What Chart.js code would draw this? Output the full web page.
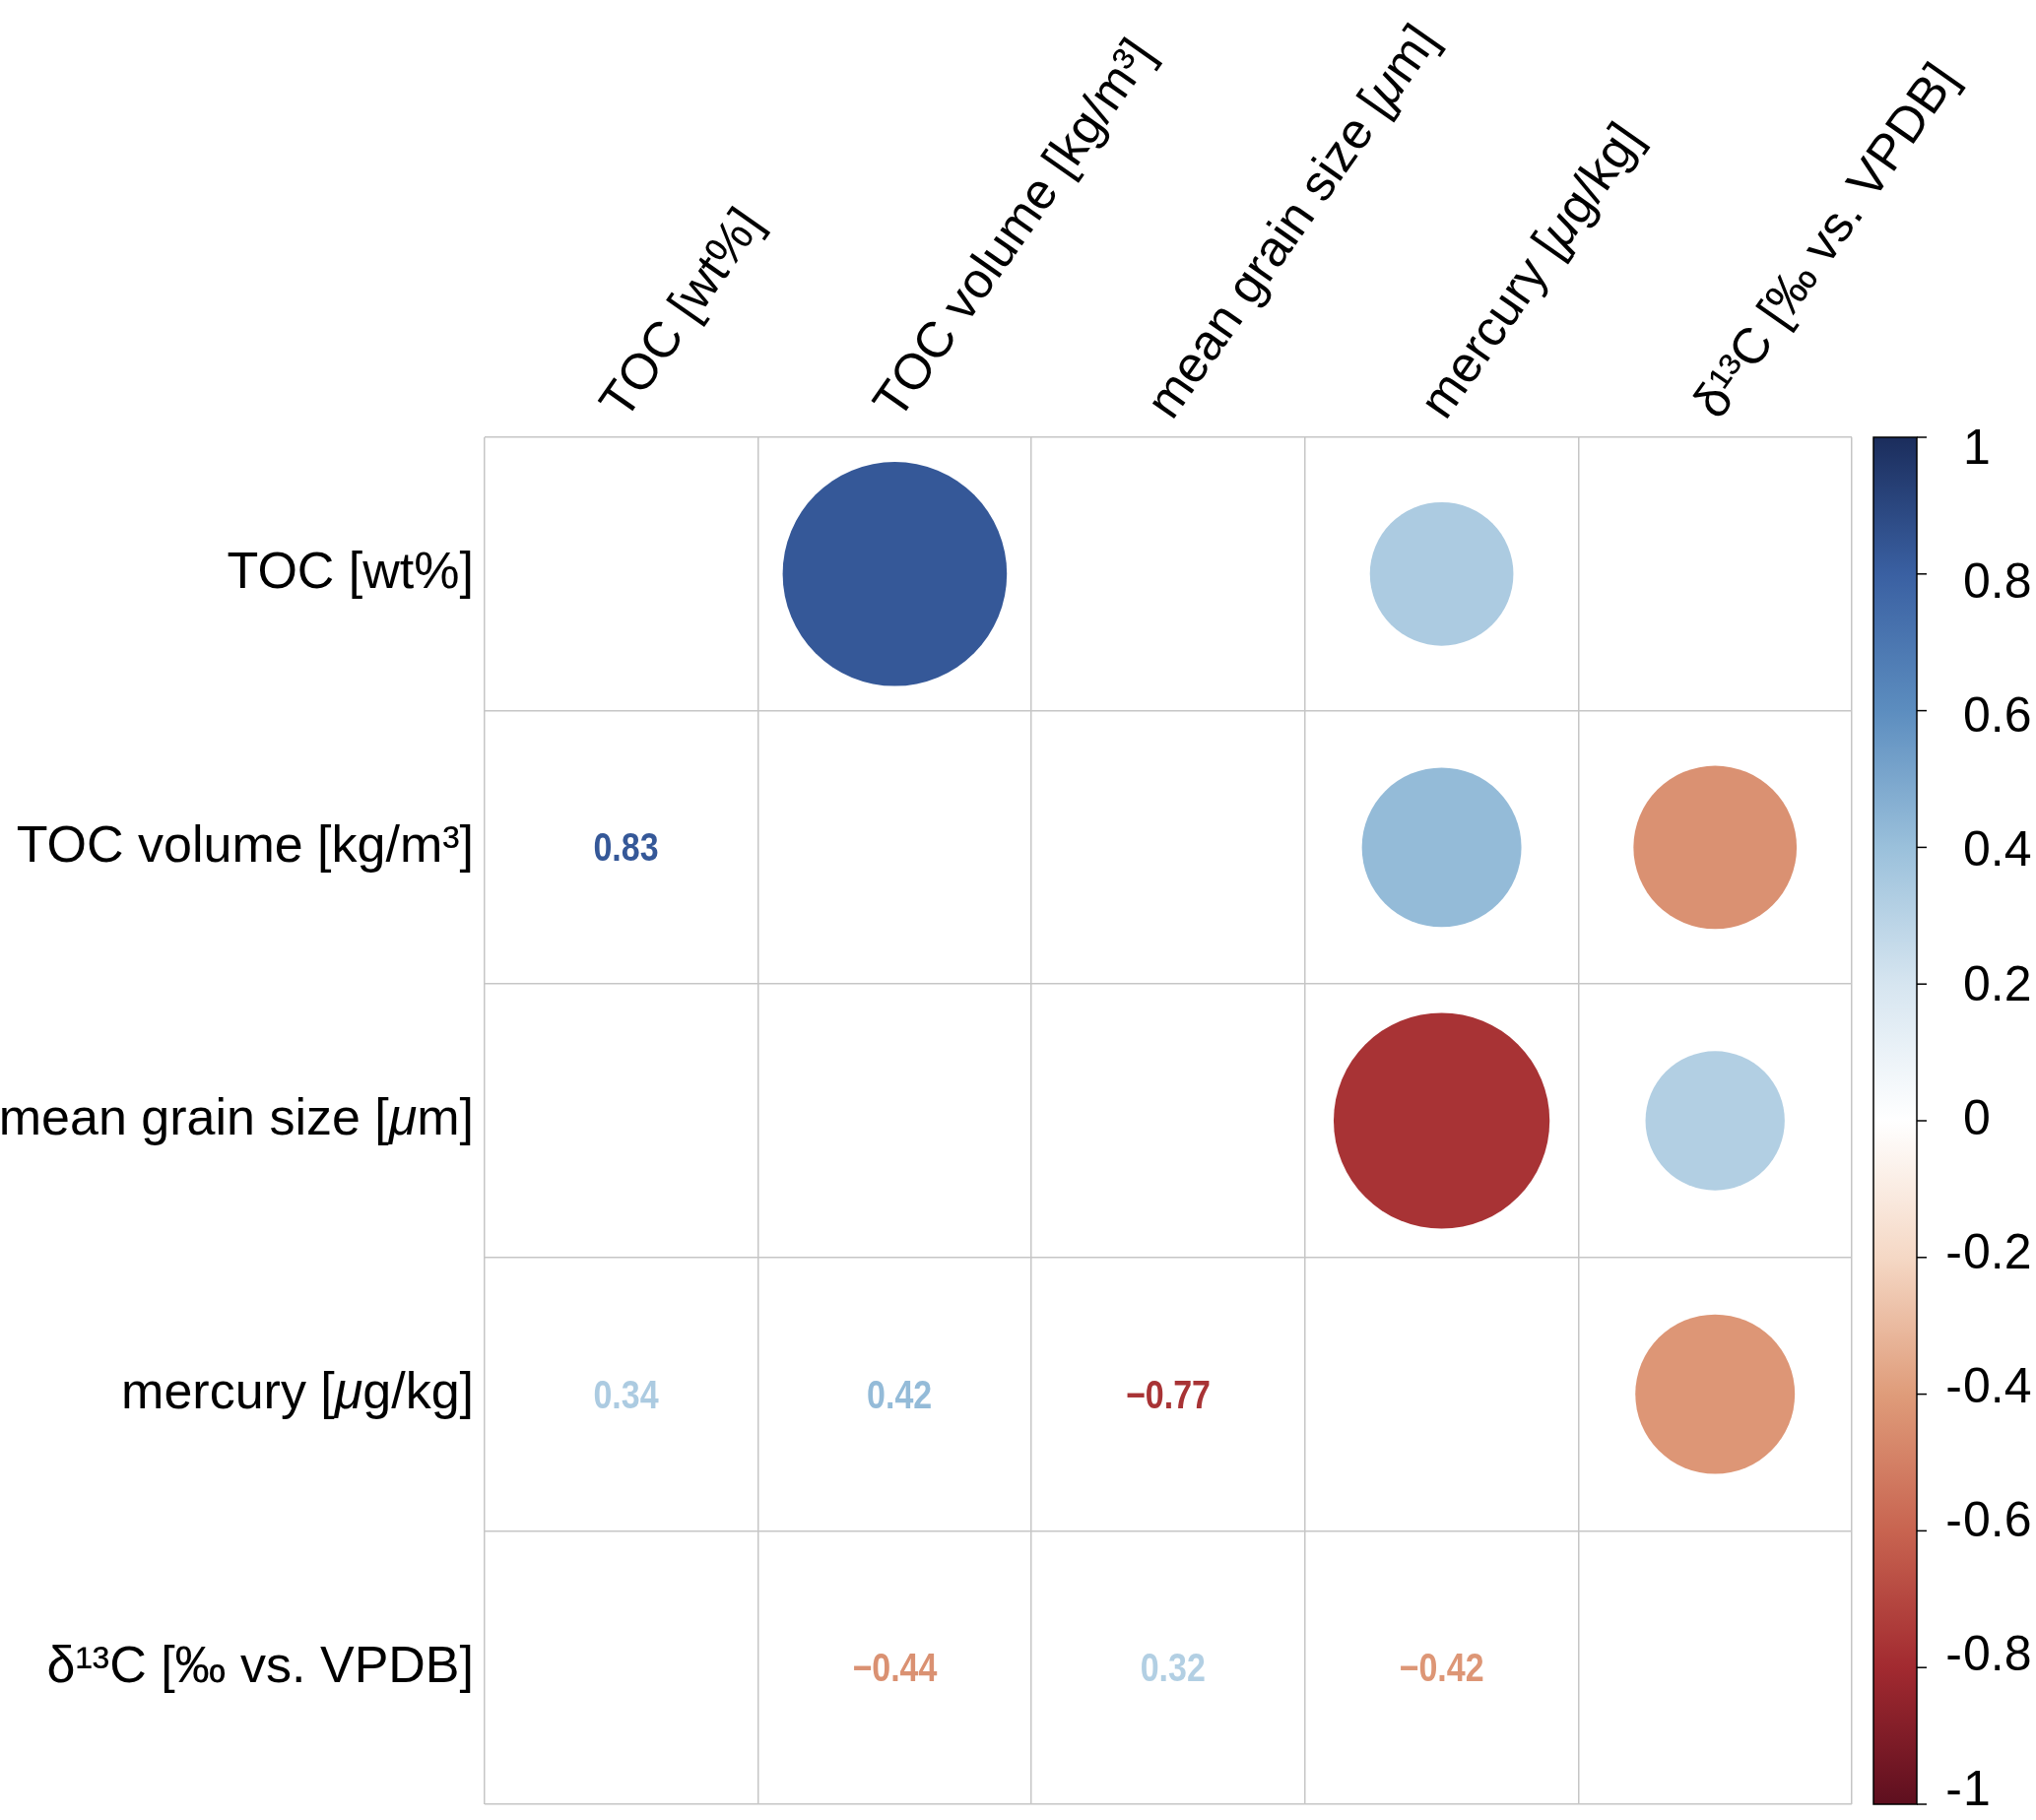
<!DOCTYPE html>
<html lang="en">
<head>
    <meta charset="UTF-8">
    <title>Correlation matrix</title>
    <script src="https://cdn.jsdelivr.net/npm/chart.js"></script>
    <style>
        * { margin: 0; padding: 0; box-sizing: border-box; }
        body { background: #ffffff; width: 2067px; height: 1848px; overflow: hidden; }
        .chart-box { position: relative; width: 2067px; height: 1848px; }
    </style>
</head>
<body>
    <div class="chart-box">
        <canvas id="corrChart"></canvas>
    </div>

    <script>
        // ---- data ----
        const variables = ['TOC [wt%]', 'TOC volume [kg/m³]', 'mean grain size [μm]', 'mercury [μg/kg]', 'δ¹³C [‰ vs. VPDB]'];

        // correlation rows (null = not significant, left blank)
        const corrTOC     = [1,     0.83,  null,  0.34,  null];
        const corrTOCvol  = [0.83,  1,     null,  0.42,  -0.44];
        const corrGrain   = [null,  null,  1,     -0.77, 0.32];
        const corrMercury = [0.34,  0.42,  -0.77, 1,     -0.42];
        const corrD13C    = [null,  -0.44, 0.32,  -0.42, 1];
        const corrRows = [corrTOC, corrTOCvol, corrGrain, corrMercury, corrD13C];

        // colour bar
        const colorTicks = [1, 0.8, 0.6, 0.4, 0.2, 0, -0.2, -0.4, -0.6, -0.8, -1];
        const paletteStops = [-1, -0.8, -0.6, -0.4, -0.2, 0, 0.2, 0.4, 0.6, 0.8, 1];
        const paletteColors = ['#5E0F1F', '#A22A30', '#C86450', '#DF9C7A', '#F5D8C5', '#FFFFFF',
                               '#D6E5F0', '#9AC0DB', '#5C8DBF', '#3A60A2', '#1B2D5C'];

        const FONT = '"Liberation Sans", Arial, Helvetica, sans-serif';

        function hexToRgb(h) {
            return [parseInt(h.slice(1, 3), 16), parseInt(h.slice(3, 5), 16), parseInt(h.slice(5, 7), 16)];
        }
        function colorFor(v) {
            for (let i = 0; i < paletteStops.length - 1; i++) {
                if (v <= paletteStops[i + 1]) {
                    const t = (v - paletteStops[i]) / (paletteStops[i + 1] - paletteStops[i]);
                    const a = hexToRgb(paletteColors[i]), b = hexToRgb(paletteColors[i + 1]);
                    const c = a.map((x, k) => Math.round(x + (b[k] - x) * t));
                    return `rgb(${c[0]},${c[1]},${c[2]})`;
                }
            }
            return paletteColors[paletteColors.length - 1];
        }

        // upper triangle -> circles, lower triangle -> numbers
        const circlePoints = [];
        const numberPoints = [];
        corrRows.forEach((row, i) => {
            row.forEach((v, j) => {
                if (v === null || i === j) return;
                const p = { x: j + 0.5, y: i + 0.5, v: v };
                if (j > i) circlePoints.push(p); else numberPoints.push(p);
            });
        });

        // text with italic μ
        function drawRich(ctx, text, x, y, align, size) {
            const parts = text.split(/(μ)/).filter(s => s.length);
            const fontOf = s => (s === 'μ' ? 'italic ' : '') + size + 'px ' + FONT;
            let total = 0;
            parts.forEach(s => { ctx.font = fontOf(s); total += ctx.measureText(s).width; });
            let cx = align === 'right' ? x - total : x;
            ctx.textAlign = 'left';
            parts.forEach(s => {
                ctx.font = fontOf(s);
                ctx.fillText(s, cx, y);
                cx += ctx.measureText(s).width;
            });
        }

        const labelsPlugin = {
            id: 'corrLabels',
            afterDatasetsDraw(chart) {
                const { ctx, chartArea, scales } = chart;
                ctx.save();
                ctx.fillStyle = '#000';

                // row labels
                ctx.textBaseline = 'middle';
                variables.forEach((name, i) => {
                    drawRich(ctx, name, chartArea.left - 11, scales.y.getPixelForValue(i + 0.5), 'right', 52);
                });

                // column labels (rotated)
                ctx.textBaseline = 'alphabetic';
                variables.forEach((name, j) => {
                    ctx.save();
                    ctx.translate(scales.x.getPixelForValue(j + 0.5) + 4, chartArea.top - 16);
                    ctx.rotate(-55 * Math.PI / 180);
                    drawRich(ctx, name, 0, 0, 'left', 51);
                    ctx.restore();
                });

                // numbers in lower triangle (narrow bold)
                const meta = chart.getDatasetMeta(1);
                ctx.font = 'bold 40px ' + FONT;
                ctx.textAlign = 'center';
                ctx.textBaseline = 'middle';
                meta.data.forEach((el, k) => {
                    const v = numberPoints[k].v;
                    const txt = v < 0 ? '\u2212' + Math.abs(v).toFixed(2) : ' ' + v.toFixed(2);
                    ctx.save();
                    ctx.translate(el.x, el.y + 3);
                    ctx.scale(0.85, 1);
                    ctx.fillStyle = colorFor(v);
                    ctx.fillText(txt, 0, 0);
                    ctx.restore();
                });

                // colour bar
                const cb = scales.cb;
                const top = cb.getPixelForValue(1), bottom = cb.getPixelForValue(-1);
                const left = chartArea.right + 22, width = 44;
                const grad = ctx.createLinearGradient(0, top, 0, bottom);
                paletteStops.forEach((s, k) => grad.addColorStop((1 - s) / 2, paletteColors[k]));
                ctx.fillStyle = grad;
                ctx.fillRect(left, top, width, bottom - top);
                ctx.strokeStyle = '#000';
                ctx.lineWidth = 1.5;
                ctx.strokeRect(left, top, width, bottom - top);

                const mid = cb.getPixelForValue(0);
                ctx.font = '50px ' + FONT;
                ctx.textAlign = 'left';
                ctx.fillStyle = '#000';
                colorTicks.forEach(t => {
                    const py = cb.getPixelForValue(t);
                    ctx.beginPath();
                    ctx.moveTo(left + width, py);
                    ctx.lineTo(left + width + 10, py);
                    ctx.stroke();
                    const ly = mid + (py - mid) * 0.981;
                    const lbl = String(Math.abs(t));
                    const lx = left + width + 47;
                    ctx.fillText(lbl, lx, ly);
                    if (t < 0) {
                        ctx.textAlign = 'right';
                        ctx.fillText('-', lx - 1, ly);
                        ctx.textAlign = 'left';
                    }
                });
                ctx.restore();
            }
        };

        const ctx = document.getElementById('corrChart').getContext('2d');
        const chart = new Chart(ctx, {
            type: 'scatter',
            data: {
                datasets: [
                    {
                        data: circlePoints,
                        pointStyle: 'circle',
                        pointBorderWidth: 0,
                        pointBackgroundColor: c => colorFor(c.raw.v),
                        pointRadius: c => {
                            const s = c.chart.scales.x;
                            const cell = s.getPixelForValue(1) - s.getPixelForValue(0);
                            return 0.45 * Math.sqrt(Math.abs(c.raw.v)) * cell;
                        }
                    },
                    {
                        data: numberPoints,
                        pointRadius: 0
                    }
                ]
            },
            options: {
                responsive: true,
                maintainAspectRatio: false,
                animation: false,
                events: [],
                layout: { padding: { left: 492, top: 444, right: 187, bottom: 16 } },
                plugins: { legend: { display: false }, tooltip: { enabled: false } },
                scales: {
                    x: {
                        type: 'linear', min: 0, max: 5,
                        ticks: { display: false, stepSize: 1 },
                        grid: { color: '#C6C6C6', lineWidth: 1.5, drawTicks: false },
                        border: { display: false }
                    },
                    y: {
                        type: 'linear', min: 0, max: 5, reverse: true,
                        ticks: { display: false, stepSize: 1 },
                        grid: { color: '#C6C6C6', lineWidth: 1.5, drawTicks: false },
                        border: { display: false }
                    },
                    cb: { type: 'linear', display: false, position: 'right', min: -1, max: 1 }
                }
            },
            plugins: [labelsPlugin]
        });
    </script>
</body>
</html>
